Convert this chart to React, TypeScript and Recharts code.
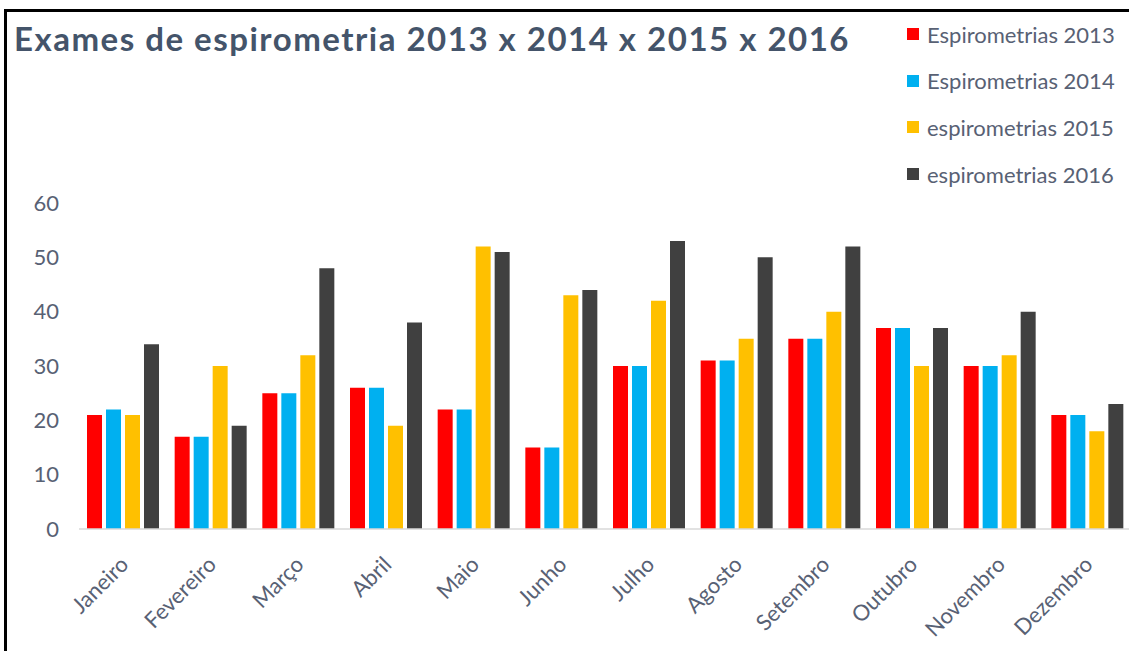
import { BarChart, Bar, XAxis, YAxis, Legend } from "recharts";

const months = [
  "Janeiro",
  "Fevereiro",
  "Março",
  "Abril",
  "Maio",
  "Junho",
  "Julho",
  "Agosto",
  "Setembro",
  "Outubro",
  "Novembro",
  "Dezembro",
];

const esp2013 = [21, 17, 25, 26, 22, 15, 30, 31, 35, 37, 30, 21];
const esp2014 = [22, 17, 25, 26, 22, 15, 30, 31, 35, 37, 30, 21];
const esp2015 = [21, 30, 32, 19, 52, 43, 42, 35, 40, 30, 32, 18];
const esp2016 = [34, 19, 48, 38, 51, 44, 53, 50, 52, 37, 40, 23];

const yTicks = [0, 10, 20, 30, 40, 50, 60];

const series = [
  { key: "e2013", name: "Espirometrias 2013", color: "#FF0000" },
  { key: "e2014", name: "Espirometrias 2014", color: "#00B0F0" },
  { key: "e2015", name: "espirometrias 2015", color: "#FFC000" },
  { key: "e2016", name: "espirometrias 2016", color: "#404040" },
];

const data = months.map((m, i) => ({
  month: m,
  e2013: esp2013[i],
  e2014: esp2014[i],
  e2015: esp2015[i],
  e2016: esp2016[i],
}));

const TEXT = "#586174";

function MonthTick({ x, y, payload }: any) {
  const tx = x + 7;
  const ty = y + 37;
  return (
    <text
      x={tx}
      y={ty}
      transform={`rotate(-45 ${tx} ${ty})`}
      textAnchor="end"
      fill={TEXT}
      fontSize={22}
    >
      {payload.value}
    </text>
  );
}

function SideLegend({ payload }: any) {
  return (
    <div>
      {(payload || []).map((p: any) => (
        <div
          key={p.value}
          style={{ display: "flex", alignItems: "center", height: 46.6 }}
        >
          <span
            style={{
              width: 12,
              height: 12,
              background: p.color,
              marginRight: 8,
              display: "inline-block",
            }}
          />
          <span style={{ color: TEXT, fontSize: 22, whiteSpace: "nowrap" }}>
            {p.value}
          </span>
        </div>
      ))}
    </div>
  );
}

export default function App() {
  return (
    <div
      style={{
        position: "relative",
        width: 1129,
        height: 651,
        overflow: "hidden",
        background: "#fff",
        fontFamily: "Lato, Carlito, sans-serif",
      }}
    >
      <style>{"body{margin:0}"}</style>
      <div
        style={{
          position: "absolute",
          left: 4,
          top: 9,
          width: 1140,
          height: 660,
          borderLeft: "3px solid #000",
          borderTop: "3px solid #000",
        }}
      />
      <div
        style={{
          position: "absolute",
          left: 14,
          top: 20,
          fontSize: 33,
          letterSpacing: 1.5,
          lineHeight: "36px",
          fontWeight: 700,
          color: "#44546A",
          whiteSpace: "nowrap",
          zIndex: 2,
        }}
      >
        Exames de espirometria 2013 x 2014 x 2015 x 2016
      </div>
      <BarChart
        width={1140}
        height={651}
        data={data}
        margin={{ top: 203, right: 9, left: 0, bottom: 0 }}
        barSize={15}
        barGap={4}
      >
        <XAxis
          dataKey="month"
          height={122}
          interval={0}
          tickLine={false}
          tickSize={0}
          tickMargin={0}
          axisLine={{ stroke: "#D9D9D9", strokeWidth: 1.5 }}
          tick={<MonthTick />}
        />
        <YAxis
          width={79}
          domain={[0, 60]}
          ticks={yTicks}
          axisLine={false}
          tickLine={false}
          tickSize={0}
          tickMargin={20}
          tick={{ fill: TEXT, fontSize: 22 }}
        />
        <Legend
          layout="vertical"
          align="center"
          verticalAlign="middle"
          content={<SideLegend />}
          wrapperStyle={{ top: 11, left: 907, width: 230 }}
        />
        {series.map((s) => (
          <Bar
            key={s.key}
            dataKey={s.key}
            name={s.name}
            fill={s.color}
            isAnimationActive={false}
          />
        ))}
      </BarChart>
    </div>
  );
}
